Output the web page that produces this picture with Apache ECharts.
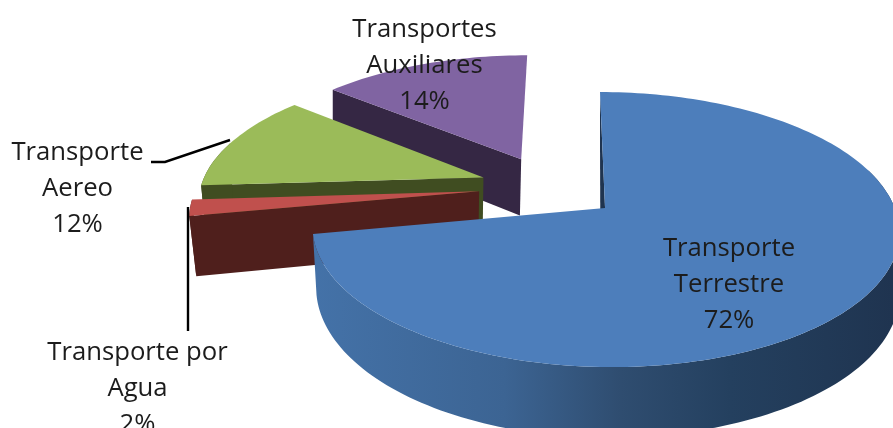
<!DOCTYPE html>
<html>
<head>
<meta charset="utf-8">
<style>html,body{margin:0;padding:0;background:#fff}#c{width:893px;height:428px}</style>
<script src="https://cdn.jsdelivr.net/npm/echarts@6/dist/echarts.min.js"></script>
</head>
<body>
<div id="c"></div>
<script>
// Data
const categories = ['Transporte Terrestre', 'Transporte por Agua', 'Transporte Aereo', 'Transportes Auxiliares'];
const values = [72, 2, 12, 14];
const labelLines = [['Transporte', 'Terrestre'], ['Transporte por', 'Agua'], ['Transporte', 'Aereo'], ['Transportes', 'Auxiliares']];

// Styles
const topColors = ['#4d7ebb', '#c0504d', '#9bbb59', '#8064a2'];
const wallColors = ['#1f3450', '#4f1f1c', '#404d21', '#352744'];
const labelCentres = [[729, 249], [137.5, 353], [77.5, 153], [424.5, 30]];
const leaders = [null, [[188, 207], [188, 331]], [[151, 162], [165, 162], [230, 140]], null];
const FONT = '"Open Sans", sans-serif';
const LINE_H = 35.7, FONT_SIZE = 25.7;

// 3D projection of the unit pie plane
const EXPLODE = 0.25, PIE_C = [-0.1925, 0.159];
function proj(u, v, low) {
  const den = 1 + 0.1564 * v, nx = 605 + 88.8 * v + 289.7 * u, ny = 208 - 101.6 * v;
  const x = nx / den, y = ny / den;
  if (!low) return [x, y];
  const conv = x <= 607 ? 0.0278 * (441 - x) : -4.6 * (893 - x) / 286;
  const depthFade = Math.min(1, Math.max(0, (y - 92) / 116));
  return [x + conv * depthFade, (ny + 59.5) / den];
}
const total = values.reduce((a, b) => a + b, 0);
function sliceAngles(i) {
  let s = 0;
  for (let j = 0; j < i; j++) s += values[j];
  return [s / total * Math.PI * 2, (s + values[i]) / total * Math.PI * 2];
}
function renderItem(params, api) {
  const i = api.value(0);
  const [a0, a1] = sliceAngles(i);
  const mid = (a0 + a1) / 2;
  const cu = PIE_C[0] + EXPLODE * Math.sin(mid), cv = PIE_C[1] + EXPLODE * Math.cos(mid);
  const arc = [];
  const n = Math.max(6, Math.round((a1 - a0) * 40));
  for (let t = 0; t <= n; t++) {
    const a = a0 + (a1 - a0) * t / n;
    arc.push([cu + Math.sin(a), cv + Math.cos(a), Math.cos(a)]);
  }
  const top = arc.map(p => proj(p[0], p[1], false));
  const frontArc = arc.filter(p => p[2] < 0.3);
  const frontTop = frontArc.map(p => proj(p[0], p[1], false));
  const frontLow = frontArc.map(p => proj(p[0], p[1], true));
  const apexT = proj(cu, cv, false), apexB = proj(cu, cv, true);
  const children = [];
  const poly = (points, fill) => children.push({
    type: 'polygon', shape: { points }, silent: true,
    style: { fill, stroke: null }
  });
  // radial face at the start angle (the one facing the viewer)
  poly([apexT, top[0], proj(arc[0][0], arc[0][1], true), apexB], wallColors[i]);
  // outer rim face, front part only
  const rimFill = i === 0
    ? new echarts.graphic.LinearGradient(313, 0, 893, 0, [
        { offset: 0, color: '#4472a8' },
        { offset: 0.33, color: '#3c6493' },
        { offset: 0.53, color: '#2f4d70' },
        { offset: 0.72, color: '#24405f' },
        { offset: 1, color: '#1f3450' }
      ], true)
    : wallColors[i];
  if (frontArc.length > 1) poly(frontTop.concat(frontLow.slice().reverse()), rimFill);
  // top face
  poly([apexT].concat(top), topColors[i]);
  // leader line
  if (leaders[i]) children.push({
    type: 'polyline', shape: { points: leaders[i] }, silent: true,
    style: { stroke: '#000', lineWidth: 2.4, fill: null }
  });
  // label
  const lines = labelLines[i].concat([values[i] + '%']);
  lines.forEach((txt, k) => children.push({
    type: 'text', silent: true,
    style: {
      text: txt, x: labelCentres[i][0], y: labelCentres[i][1] + k * LINE_H,
      align: 'center', verticalAlign: 'middle',
      font: FONT_SIZE + 'px ' + FONT, fill: '#1c1c1c'
    }
  }));
  return { type: 'group', children };
}
// back-to-front drawing order
const order = values.map((v, i) => i).reverse();
const chart = echarts.init(document.getElementById('c'), null, { renderer: 'canvas' });
chart.setOption({
  animation: false,
  backgroundColor: '#fff',
  series: [{
    type: 'custom',
    coordinateSystem: 'none',
    clip: false,
    renderItem,
    encode: { itemName: 2 },
    data: order.map(i => ({ name: categories[i], value: [i, values[i]] }))
  }]
});
</script>
</body>
</html>
